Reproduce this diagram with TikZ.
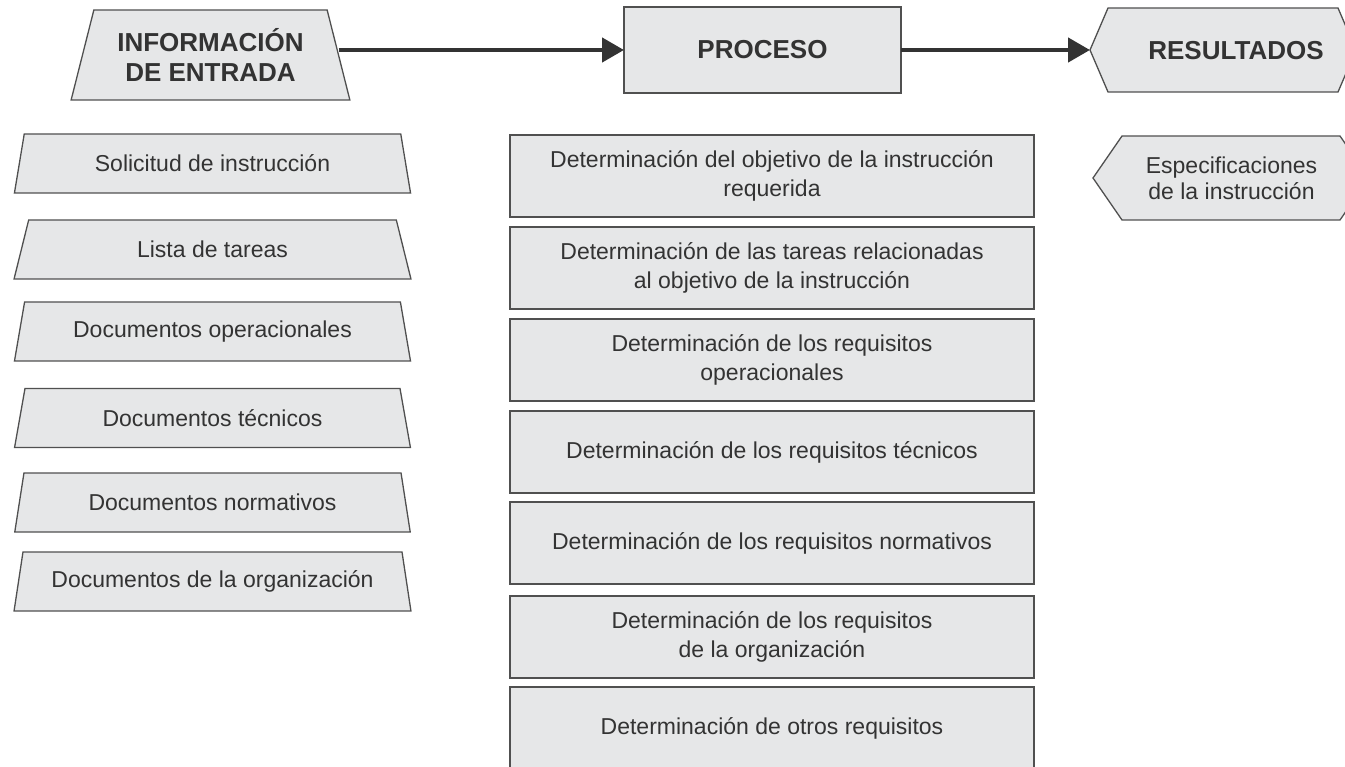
\documentclass[tikz,border=0pt]{standalone}
\usepackage{fontspec}
\setmainfont{Liberation Sans}
\usetikzlibrary{shapes.geometric,arrows.meta,calc}
\definecolor{boxfill}{HTML}{E6E7E8}
\definecolor{boxline}{HTML}{505050}
\definecolor{txt}{HTML}{333333}
\definecolor{flowcol}{HTML}{333333}
\begin{document}
\begin{tikzpicture}[x=1pt,y=-1pt,
  shapeline/.style={draw=boxline, fill=boxfill, line width=1.3pt},
  bodytext/.style={text=txt, font=\fontsize{23}{29}\selectfont, align=center},
  titletext/.style={text=txt, font=\fontsize{26}{30}\selectfont\bfseries, align=center},
  inshape/.style={shapeline, bodytext, trapezium, trapezium angle=72.15,
    trapezium stretches=true, minimum width=397pt, minimum height=59pt,
    inner sep=1pt, outer sep=0pt},
  infoshape/.style={shapeline, titletext, trapezium, trapezium angle=71.57,
    trapezium stretches=true, minimum width=279pt, minimum height=90pt,
    inner sep=1pt, outer sep=0pt},
  procbox/.style={shapeline, bodytext, rectangle, minimum width=524pt,
    minimum height=82pt, inner sep=1pt, outer sep=0pt},
  headbox/.style={shapeline, titletext, rectangle, minimum width=277pt,
    minimum height=86pt, inner sep=1pt, outer sep=0pt},
  flow/.style={draw=flowcol, line width=4.5pt,
    -{Triangle[length=22pt,width=24pt]}}
]
\useasboundingbox (0,0) rectangle (1345,767);

% header row
\node[infoshape] (info) at (210.5,55) {INFORMACIÓN\\DE ENTRADA};
\node[headbox] (proc) at (762.5,50) {PROCESO};
\path[shapeline] (1108,8) -- (1090,50) -- (1108,92) -- (1338,92) -- (1356,50) -- (1338,8) -- cycle;
\coordinate (restip) at (1090,50);
\node[titletext] (res) at (1236,51) {RESULTADOS};

\draw[flow] (info.east |- proc.west) -- (proc.west);
\draw[flow] (proc.east) -- (restip);

% inputs
\node[inshape] (in1) at (212.5,163.5) {Solicitud de instrucción};
\node[inshape] (in2) at (212.5,249.5) {Lista de tareas};
\node[inshape] (in3) at (212.5,331.5) {Documentos operacionales};
\node[inshape] (in4) at (212.5,418) {Documentos técnicos};
\node[inshape] (in5) at (212.5,502.5) {Documentos normativos};
\node[inshape] (in6) at (212.5,581.5) {Documentos de la organización};

% process steps
\node[procbox] (p1) at (772,176) {Determinación del objetivo de la instrucción\\requerida};
\node[procbox] (p2) at (772,268) {Determinación de las tareas relacionadas\\al objetivo de la instrucción};
\node[procbox] (p3) at (772,360) {Determinación de los requisitos\\operacionales};
\node[procbox] (p4) at (772,452) {Determinación de los requisitos técnicos};
\node[procbox] (p5) at (772,543) {Determinación de los requisitos normativos};
\node[procbox] (p6) at (772,637) {Determinación de los requisitos\\de la organización};
\node[procbox] (p7) at (772,728) {Determinación de otros requisitos};

% results
\path[shapeline] (1122,136) -- (1093,178) -- (1122,220) -- (1340,220) -- (1369,178) -- (1340,136) -- cycle;
\node[bodytext, font=\fontsize{23}{26}\selectfont] (spec) at (1231.5,178) {Especificaciones\\de la instrucción};
\end{tikzpicture}
\end{document}
